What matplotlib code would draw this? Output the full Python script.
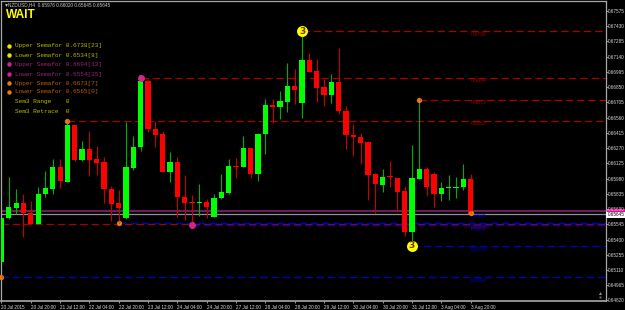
"""NZDUSD H4 candlestick chart with semafor levels, drawn in the MT4 dark style."""

import matplotlib
matplotlib.use("Agg")
import matplotlib.pyplot as plt
from matplotlib.patches import Rectangle

SYMBOL = "NZDUSD,H4"
LAST_OHLC = (0.65976, 0.66020, 0.65645, 0.65645)

opens = [
    0.65190, 0.65608, 0.65704, 0.65745, 0.65656, 0.65546, 0.65834, 0.65882, 0.66094, 0.65951,
    0.66491, 0.66157, 0.66259, 0.66164, 0.66138, 0.65882, 0.65745, 0.65608, 0.66084, 0.66281,
    0.66909, 0.66450, 0.66405, 0.66046, 0.66141, 0.65803, 0.65755, 0.65751, 0.65761, 0.65615,
    0.65796, 0.65843, 0.66100, 0.66091, 0.66272, 0.66024, 0.66405, 0.66676, 0.66662, 0.66712,
    0.66862, 0.66703, 0.67109, 0.67004, 0.66852, 0.66776, 0.66900, 0.66624, 0.66398, 0.66376,
    0.66329, 0.66021, 0.65920, 0.66002, 0.65986, 0.65860, 0.65472, 0.65977, 0.66072, 0.66024,
    0.65834, 0.65888, 0.65888, 0.65898, 0.65976,
]
highs = [
    0.65608, 0.65993, 0.65879, 0.65834, 0.65767, 0.65898, 0.66053, 0.66167, 0.66167, 0.66524,
    0.66491, 0.66341, 0.66433, 0.66291, 0.66189, 0.65913, 0.65872, 0.66522, 0.66386, 0.66957,
    0.66919, 0.66526, 0.66433, 0.66231, 0.66189, 0.66015, 0.65824, 0.65929, 0.65786, 0.65834,
    0.66024, 0.66167, 0.66179, 0.66386, 0.66272, 0.66417, 0.66738, 0.66738, 0.66817, 0.67078,
    0.67021, 0.67380, 0.67173, 0.67119, 0.66925, 0.66976, 0.67223, 0.66674, 0.66500, 0.66417,
    0.66338, 0.66037, 0.66072, 0.66148, 0.65986, 0.65910, 0.66300, 0.66730, 0.66088, 0.66043,
    0.65948, 0.66015, 0.65996, 0.66119, 0.66020,
]
lows = [
    0.65190, 0.65596, 0.65641, 0.65428, 0.65548, 0.65546, 0.65803, 0.65834, 0.65894, 0.65948,
    0.66148, 0.66145, 0.66005, 0.66015, 0.65751, 0.65577, 0.65558, 0.65593, 0.66062, 0.66243,
    0.66427, 0.66284, 0.66046, 0.65948, 0.65612, 0.65586, 0.65540, 0.65625, 0.65603, 0.65615,
    0.65789, 0.65837, 0.65986, 0.66091, 0.65983, 0.65960, 0.66215, 0.66510, 0.66545, 0.66617,
    0.66693, 0.66560, 0.66998, 0.66709, 0.66674, 0.66700, 0.66595, 0.66262, 0.66195, 0.66119,
    0.65777, 0.65650, 0.65856, 0.65898, 0.65663, 0.65434, 0.65340, 0.65977, 0.65815, 0.65707,
    0.65767, 0.65774, 0.65799, 0.65872, 0.65645,
]
closes = [
    0.65608, 0.65707, 0.65745, 0.65656, 0.65548, 0.65834, 0.65888, 0.66094, 0.65955, 0.66491,
    0.66157, 0.66259, 0.66157, 0.66132, 0.65882, 0.65739, 0.65704, 0.66091, 0.66284, 0.66909,
    0.66450, 0.66398, 0.66046, 0.66141, 0.65803, 0.65751, 0.65745, 0.65761, 0.65707, 0.65796,
    0.65850, 0.66100, 0.66091, 0.66272, 0.66024, 0.66408, 0.66684, 0.66659, 0.66719, 0.66862,
    0.66824, 0.67109, 0.66998, 0.66843, 0.66779, 0.66900, 0.66624, 0.66395, 0.66376, 0.66319,
    0.66015, 0.65929, 0.65993, 0.65993, 0.65853, 0.65472, 0.65986, 0.66072, 0.65898, 0.65834,
    0.65891, 0.65900, 0.65900, 0.65974, 0.65645,
]

# semafor levels and the bar each one starts from
red_levels = [0.6738, 0.6694, 0.6673, 0.6653, 0.6555]
red_starts = [41, 19, 57, 9, 0]
blue_levels = [0.6556, 0.6554, 0.6534, 0.6504]
blue_starts = [16, 26, 56, 0]

big_bars = [41, 56]
big_prices = [0.6738, 0.6534]
mid_bars = [19, 26]
mid_prices = [0.6694, 0.6554]
small_bars = [9, 16, 57, 64, 0]
small_prices = [0.6653, 0.6556, 0.6673, 0.6565, 0.6504]

blue_captions = [0.6565, 0.6555, 0.6554, 0.6534, 0.6504]
blue_caption_offsets = [-0.00035, -0.00025, -0.00045, -0.00035, -0.00030]

panel_lines = [
    ("Upper Semafor 0.6738[23]", "#b8b800", "#e6e600"),
    ("Lower Semafor 0.6534[8]", "#b8b800", "#e6e600"),
    ("Upper Semafor 0.6694[13]", "#a0207a", "#d0209a"),
    ("Lower Semafor 0.6554[35]", "#a0207a", "#d0209a"),
    ("Upper Semafor 0.6673[7]", "#b85f10", "#e87a10"),
    ("Lower Semafor 0.6565[0]", "#b85f10", "#e87a10"),
    ("Sem3 Range    0", "#b8b800", None),
    ("Sem3 Retrace  0", "#b8b800", None),
]
panel_rows = [46, 55, 64.5, 74, 83, 92, 101.5, 111]

price_ticks = [0.67575 - 0.00145 * k for k in range(20)]
time_tick_bars = list(range(0, 65, 4))
time_tick_labels = [
    "20 Jul 2015", "20 Jul 20:00", "21 Jul 12:00", "22 Jul 04:00", "22 Jul 20:00",
    "23 Jul 12:00", "24 Jul 04:00", "24 Jul 20:00", "27 Jul 12:00", "28 Jul 04:00",
    "28 Jul 20:00", "29 Jul 12:00", "30 Jul 04:00", "30 Jul 20:00", "31 Jul 12:00",
    "3 Aug 04:00", "3 Aug 20:00",
]

W, H = 625, 310
LEFT, RIGHT, TOP, BOTTOM = 1.5, 605.5, 1.0, 301.0
BAR_PX = 7.33
GREEN, RED = "#00ff00", "#ff0000"
FRAME = "#a8a8a8"
SCALE_FONT = "Liberation Sans"

fig = plt.figure(figsize=(W / 100, H / 100), dpi=100, facecolor="black")
ax = fig.add_axes([LEFT / W, 1 - BOTTOM / H, (RIGHT - LEFT) / W, (BOTTOM - TOP) / H])
ax.set_facecolor("black")
ax.set_xlim(0, (RIGHT - LEFT) / BAR_PX)
ax.set_ylim(0.64815, 0.67670)
for side in ax.spines.values():
    side.set_color(FRAME)
    side.set_linewidth(0.9)
ax.spines["bottom"].set_linewidth(1.2)


def px_point(x, y):
    return x / W, 1 - y / H


# price lines under the candles
last_close = closes[-1]
ax.axhline(0.65674, color="#6a1f5a", lw=1.5, zorder=1)
ax.axhline(last_close, color="#8f9098", lw=0.9, zorder=1)

dash = (0, (6, 3))
for lvl, start in zip(red_levels, red_starts):
    ax.plot([start, 200], [lvl, lvl], color="#a80000", lw=0.9, ls=dash, zorder=1)
for lvl, start in zip(blue_levels, blue_starts):
    ax.plot([start, 200], [lvl, lvl], color="#0000c8", lw=0.9, ls=dash, zorder=1)

for i, (o, h, l, c) in enumerate(zip(opens, highs, lows, closes)):
    color = GREEN if c >= o else RED
    wick = "#00b000" if c >= o else "#c80000"
    ax.plot([i, i], [l, h], color=wick, lw=0.8, zorder=2, solid_capstyle="butt")
    bottom, height = min(o, c), abs(c - o)
    height = max(height, 0.00009)
    ax.add_patch(Rectangle((i - 0.36, bottom), 0.72, height, facecolor=color,
                           edgecolor="none", zorder=3))

# level captions beside the last bar
for lvl in red_levels[:4]:
    ax.text(64, lvl - 0.00025, f"{lvl:.4f}", color="#a00000", fontsize=3.7,
            family=SCALE_FONT, va="center", zorder=4)
ax.text(64, 0.65515, "0.6555", color="#a00000", fontsize=3.7, family=SCALE_FONT,
        va="center", zorder=4)
for lvl, off in zip(blue_captions, blue_caption_offsets):
    ax.text(64, lvl + off, f"{lvl:.4f}", color="#0000c8", fontsize=3.7, family=SCALE_FONT,
            va="center", zorder=4)

# swing markers
for b, p in zip(big_bars, big_prices):
    ax.plot(b, p, "o", ms=7.9, mfc="#ffff00", mec="none", zorder=5)
    ax.text(b, p, "3", color="#803000", fontsize=6.5, fontweight="bold", ha="center",
            va="center", zorder=6)
for b, p in zip(mid_bars, mid_prices):
    ax.plot(b, p, "o", ms=5, mfc="#d8209a", mec="none", zorder=5)
    ax.text(b, p, "2", color="#c0501c", fontsize=3.8, ha="center", va="center", zorder=6)
for b, p in zip(small_bars, small_prices):
    ax.plot(b, p, "o", ms=3.8, mfc="#e87a10", mec="none", zorder=5, clip_on=False)
    ax.text(b, p, "1", color="#8a4a10", fontsize=2.8, ha="center", va="center", zorder=6)

# right and bottom scales
ax.yaxis.tick_right()
ax.set_yticks(price_ticks)
ax.set_yticklabels([f"{t:.5f}" for t in price_ticks], family=SCALE_FONT)
ax.tick_params(axis="y", colors="#d8d8d8", labelsize=3.3, length=1.2, width=0.5, pad=0.6)
ax.set_xticks(time_tick_bars)
ax.set_xticklabels(time_tick_labels, ha="left", family=SCALE_FONT)
ax.tick_params(axis="x", colors="#d8d8d8", labelsize=3.3, length=1.5, width=0.5, pad=1.2)

# current price tags
fig.add_artist(Rectangle(px_point(606, 212), 19 / W, 3.5 / H, transform=fig.transFigure,
                         facecolor="#ff00a0", edgecolor="none", zorder=-1))
fig.add_artist(Rectangle(px_point(606, 217.5), 19 / W, 5.5 / H, transform=fig.transFigure,
                         facecolor="white", edgecolor="none", zorder=2))
tag_x, tag_y = px_point(608, 214.8)
fig.text(tag_x, tag_y, f"{last_close:.5f}", color="black", fontsize=3.3, family=SCALE_FONT,
         va="center", zorder=3)

# scale fix glyph in the lower right corner
fig.add_artist(plt.Line2D([600 / W], [1 - 293 / H], marker="^", ms=2.2, mfc="#8c8c8c",
                          mec="none", transform=fig.transFigure))
fig.add_artist(plt.Line2D([600 / W], [1 - 296.5 / H], marker="s", ms=1.8, mfc="#6e6e6e",
                          mec="none", transform=fig.transFigure))

# header and signal panel
fig.add_artist(plt.Line2D([5.5 / W], [1 - 5 / H], marker="v", ms=2, mfc="#c8c8c8", mec="none",
                          transform=fig.transFigure))
head_x, head_y = px_point(8, 5)
fig.text(head_x, head_y, f"{SYMBOL}  " + " ".join(f"{v:.5f}" for v in LAST_OHLC),
         color="#c8c8c8", fontsize=3.4, family=SCALE_FONT, va="center")
wait_x, wait_y = px_point(5.5, 14.5)
fig.text(wait_x, wait_y, "WAIT", color="#ffff00", fontsize=8.6, fontweight="bold",
         family="Liberation Sans", va="center")
for (line, text_color, dot_color), y in zip(panel_lines, panel_rows):
    row_x, row_y = px_point(15, y)
    fig.text(row_x, row_y, line, color=text_color, fontsize=4.4, family="Liberation Mono",
             va="center")
    if dot_color:
        fig.add_artist(plt.Line2D([8.5 / W], [row_y], marker="o", ms=3.2, mfc=dot_color,
                                  mec="none", transform=fig.transFigure))

fig.savefig("out.png", dpi=100, facecolor="black")
plt.close(fig)
